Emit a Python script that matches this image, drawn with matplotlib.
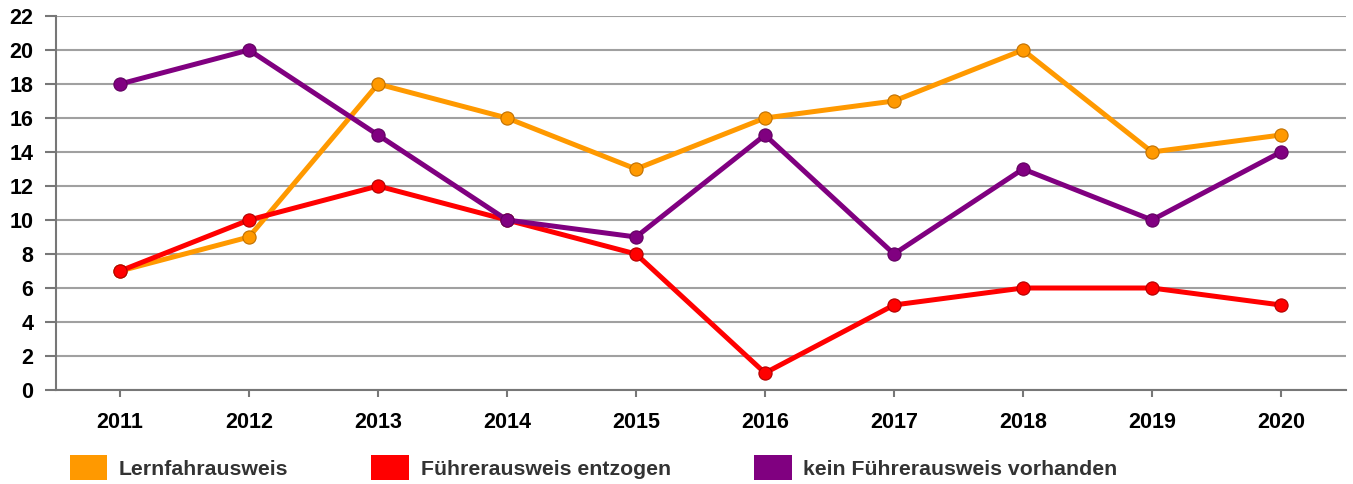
import matplotlib.pyplot as plt
from matplotlib.patches import Patch

years = ['2011', '2012', '2013', '2014', '2015', '2016', '2017', '2018', '2019', '2020']
lernfahr = [7, 9, 18, 16, 13, 16, 17, 20, 14, 15]
entzogen = [7, 10, 12, 10, 8, 1, 5, 6, 6, 5]
kein = [18, 20, 15, 10, 9, 15, 8, 13, 10, 14]

labels = ['Lernfahrausweis', 'Führerausweis entzogen', 'kein Führerausweis vorhanden']
colors = ['#ff9900', '#ff0000', '#800080']
edges = ['#c07000', '#b00000', '#600060']

plt.rcParams['font.family'] = ['Liberation Sans', 'DejaVu Sans']
plt.rcParams['font.weight'] = 'bold'

fig = plt.figure(figsize=(13.53, 4.84), dpi=100)
ax = fig.add_axes([55.5 / 1353, 1 - 390 / 484, 1290 / 1353, 374 / 484])

x = list(range(len(years)))
order = [0, 2, 1]
series = [lernfahr, entzogen, kein]
for i in order:
    ax.plot(x, series[i], color=colors[i], lw=3.6, marker='o', ms=9.5,
            markerfacecolor=colors[i], markeredgecolor=edges[i], markeredgewidth=0.8,
            zorder=3 + i)

ax.set_xlim(-0.5, len(years) - 0.5)
ax.set_ylim(0, 22)
ax.set_yticks(range(0, 23, 2))
ax.set_xticks(x)
ax.set_xticklabels(years)
ax.tick_params(axis='both', labelsize=15.5, colors='#777777', labelcolor='black', width=1.5)
ax.tick_params(axis='y', length=8, pad=8)
ax.tick_params(axis='x', length=5, pad=11)
ax.grid(axis='y', color='#a0a0a0', lw=1.5)
ax.set_axisbelow(True)
for s in ['top', 'right']:
    ax.spines[s].set_visible(False)
ax.spines['left'].set_color('#777777')
ax.spines['bottom'].set_color('#777777')
ax.spines['left'].set_linewidth(1.5)
ax.spines['bottom'].set_linewidth(1.5)

handles = [Patch(facecolor=c, edgecolor='none') for c in colors]
leg = fig.legend(handles, labels, loc='lower left', bbox_to_anchor=(61 / 1353, -0.010),
                 ncol=3, frameon=False, fontsize=15.3, handlelength=1.77, handleheight=1.44,
                 handletextpad=0.56, columnspacing=3.9, borderaxespad=0)
for t in leg.get_texts():
    t.set_color('#333333')

fig.savefig('out.png', dpi=100)
